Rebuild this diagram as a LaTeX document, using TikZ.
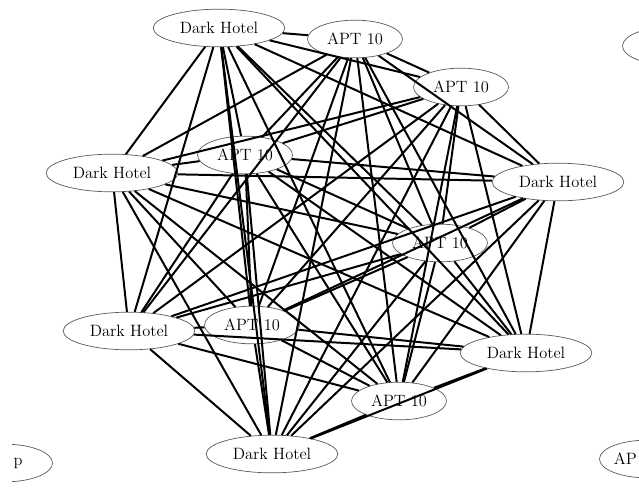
\documentclass[tikz,border=0pt]{standalone}
\usepackage{tikz}
\usetikzlibrary{shapes.geometric}

\begin{document}
\begin{tikzpicture}[x=0.03cm, y=-0.03cm,
    actor/.style={ellipse, draw=black!65, line width=0.6pt, inner sep=0pt,
      minimum height=1.13cm, font=\fontsize{14}{16}\selectfont},
    dh/.style={actor, minimum width=3.95cm},
    apt/.style={actor, minimum width=2.85cm},
    link/.style={line width=1.7pt, black}]
  \useasboundingbox (0,0) rectangle (639,492);
  \clip (12,0) rectangle (639,492);

  % Main cluster
  \node[dh]  (dhTop)    at (219, 28)  {Dark Hotel};
  \node[apt] (aptTop)   at (355, 39)  {APT 10};
  \node[apt] (aptRight) at (461, 87)  {APT 10};
  \node[apt] (aptUpper) at (245, 155) {APT 10};
  \node[dh]  (dhLeft)   at (112, 173) {Dark Hotel};
  \node[dh]  (dhRight)  at (558, 182) {Dark Hotel};
  \node[apt] (aptMid)   at (440, 243) {APT 10};
  \node[dh]  (dhLow)    at (129, 331) {Dark Hotel};
  \node[apt] (aptLow)   at (252, 325) {APT 10};
  \node[dh]  (dhLowR)   at (526, 353) {Dark Hotel};
  \node[apt] (aptBot)   at (399, 401) {APT 10};
  \node[dh]  (dhBot)    at (272, 454) {Dark Hotel};

  % Every pair linked
  \foreach \a [count=\i] in {dhTop, aptTop, aptRight, aptUpper, dhLeft, dhRight,
      aptMid, dhLow, aptLow, dhLowR, aptBot, dhBot} {
    \foreach \b [count=\j] in {dhTop, aptTop, aptRight, aptUpper, dhLeft, dhRight,
        aptMid, dhLow, aptLow, dhLowR, aptBot, dhBot} {
      \ifnum\j>\i \draw[link] (\a) -- (\b); \fi
    }
  }

  % Neighbouring clusters, cut off at the border
  \node[apt] (edgeTopR) at (670, 46) {};
  \node[apt] (edgeBotL) at (5, 463) {};
  \node[font=\fontsize{14}{16}\selectfont] (edgeBotLText) at (18, 463) {p};
  \node[apt] (edgeBotR) at (647, 459) {};
  \node[font=\fontsize{14}{16}\selectfont, anchor=east, inner sep=0pt]
    (edgeBotRText) at (637, 459) {AP};
\end{tikzpicture}
\end{document}
